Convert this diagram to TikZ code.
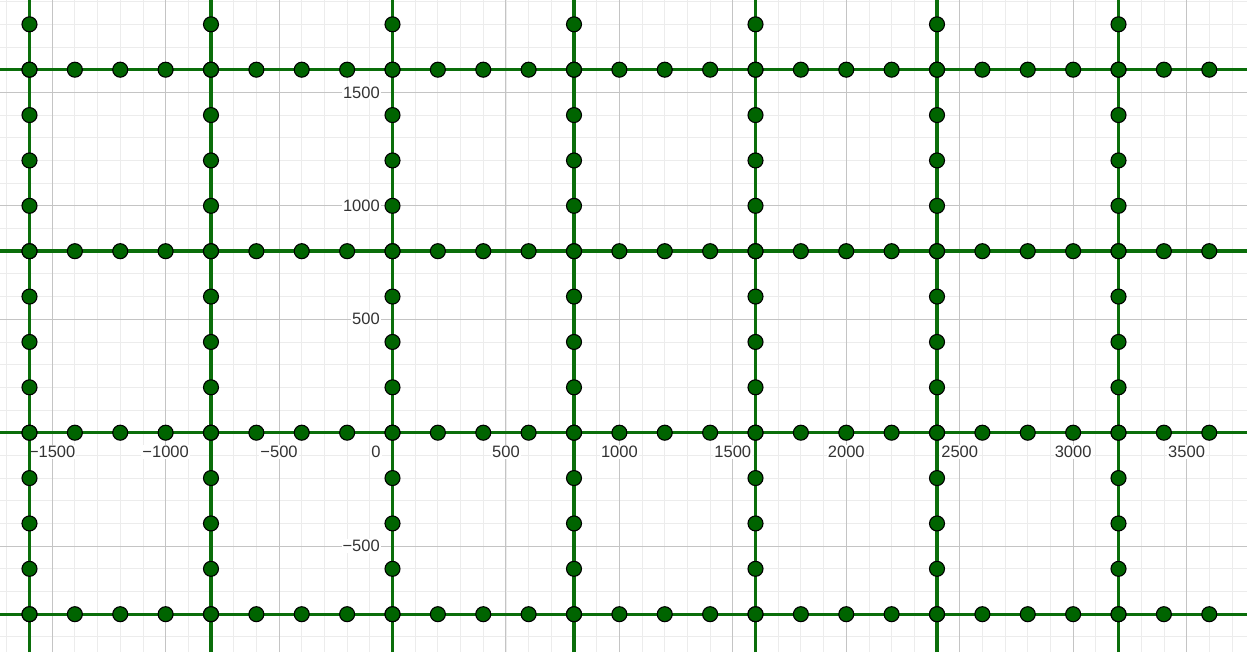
\documentclass[tikz,border=0pt]{standalone}
\usepackage{fontspec}
\setmainfont{Liberation Sans}
\definecolor{ggreen}{RGB}{0,100,0}
\definecolor{gline}{RGB}{10,110,10}
\definecolor{gmajor}{RGB}{196,196,196}
\definecolor{gminor}{RGB}{236,236,236}
\definecolor{glabel}{RGB}{51,51,51}
\begin{document}
\begin{tikzpicture}[x=0.22688pt,y=0.22688pt,
 minorgrid/.style={gminor,line width=0.8pt},
 majorgrid/.style={gmajor,line width=1pt},
 greenline/.style={gline,line width=3.4pt},
 gpt/.style={circle,fill=ggreen,draw=black,line width=1.1pt,minimum size=15pt,inner sep=0pt},
 axlab/.style={fill=white,inner sep=1pt,font=\fontsize{16.5}{18}\selectfont,text=glabel}]
\useasboundingbox[fill=white] (-1730,-966.6) rectangle (3766.3,1907.2);
% minor grid
\foreach \x in {-1700,-1600,...,3700} \draw[minorgrid] (\x,-966.6) -- (\x,1907.2);
\foreach \y in {-900,-800,...,1900} \draw[minorgrid] (-1730,\y) -- (3766.3,\y);
% major grid
\foreach \x in {-1500,-1000,...,3500} \draw[majorgrid] (\x,-966.6) -- (\x,1907.2);
\foreach \y in {-500,0,...,1500} \draw[majorgrid] (-1730,\y) -- (3766.3,\y);
% axis labels
\foreach \v/\t in {-1500/−1500,-1000/−1000,-500/−500,500/500,1000/1000,1500/1500,2000/2000,2500/2500,3000/3000,3500/3500}
  \node[axlab,name=lx\v] at (\v,-85) {\t};
\node[axlab,name=lorigin] at (-72.7,-85) {0};
\foreach \v/\t in {-500/−500,500/500,1000/1000,1500/1500}
  \node[axlab,anchor=east,name=ly\v] at (-51,\v) {\t};
% green lines
\foreach \y in {-800,0,800,1600} \draw[greenline] (-1730,\y) -- (3766.3,\y);
\foreach \x in {-1600,-800,...,3200} \draw[greenline] (\x,-966.6) -- (\x,1907.2);
% points
\foreach \y in {-800,0,800,1600}
  \foreach \x in {-1600,-1400,...,3600}
    \node[gpt,name={h\x/\y}] at (\x,\y) {};
\foreach \x in {-1600,-800,...,3200}
  \foreach \y in {-800,-600,...,1800}
    \node[gpt,name={v\x/\y}] at (\x,\y) {};
\end{tikzpicture}
\end{document}
